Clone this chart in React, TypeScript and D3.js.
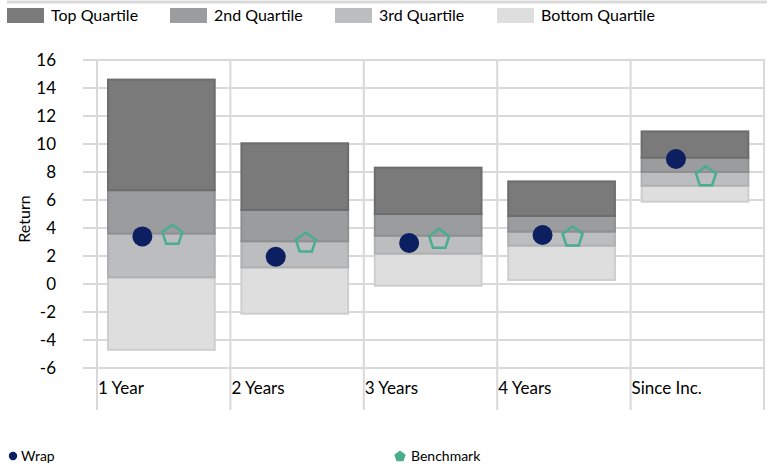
import { useRef, useEffect } from 'react';
import * as d3 from 'd3';

const categories = ['1 Year', '2 Years', '3 Years', '4 Years', 'Since Inc.'];
// quartile boundaries, low to high
const bottomLow = [-4.7, -2.12, -0.12, 0.29, 5.88];
const thirdLow = [0.48, 1.19, 2.17, 2.74, 7.02];
const secondLow = [3.6, 3.05, 3.45, 3.74, 8.0];
const topLow = [6.7, 5.29, 5.0, 4.86, 9.02];
const topHigh = [14.6, 10.05, 8.31, 7.33, 10.9];
const wrap = [3.4, 1.95, 2.93, 3.5, 8.93];
const benchmark = [3.55, 3.0, 3.26, 3.43, 7.74];
const yTicks = [16, 14, 12, 10, 8, 6, 4, 2, 0, -2, -4, -6];

const quartiles = [
  { name: 'Top Quartile', color: '#7a7a7b', stroke: '#6d6d6e', lo: topLow, hi: topHigh },
  { name: '2nd Quartile', color: '#9b9c9d', stroke: '#8e8f90', lo: secondLow, hi: topLow },
  { name: '3rd Quartile', color: '#bcbdbe', stroke: '#afb0b1', lo: thirdLow, hi: secondLow },
  { name: 'Bottom Quartile', color: '#dedede', stroke: '#cecece', lo: bottomLow, hi: thirdLow },
];

const FONT = 'Lato, "Open Sans", sans-serif';
const W = 771;
const H = 466;

export default function App() {
  const svgRef = useRef<SVGSVGElement>(null);

  useEffect(() => {
    if (!svgRef.current) return;
    const svg = d3.select(svgRef.current);
    svg.selectAll('*').remove();

    const y = d3.scaleLinear().domain([-6, 16]).range([368, 60]);
    const x = d3.scaleBand<string>().domain(categories).range([97, 764]).padding(0);
    const bw = x.bandwidth();

    // top rule
    svg.append('line')
      .attr('x1', 7).attr('x2', 767).attr('y1', 2).attr('y2', 2)
      .attr('stroke', '#d9d9d9').attr('stroke-width', 3);

    // legend
    const legX = [7, 170, 335, 497];
    quartiles.forEach((q, i) => {
      svg.append('rect')
        .attr('x', legX[i]).attr('y', 8).attr('width', 37).attr('height', 15)
        .attr('fill', q.color);
      svg.append('text')
        .attr('x', legX[i] + 44).attr('y', 21)
        .attr('font-family', FONT).attr('font-size', 16).attr('fill', '#000')
        .text(q.name);
    });

    // grid
    const grid = svg.append('g');
    yTicks.forEach((t) => {
      grid.append('line')
        .attr('x1', 83).attr('x2', 764).attr('y1', y(t)).attr('y2', y(t))
        .attr('stroke', '#d9d9d9').attr('stroke-width', 2);
      svg.append('text')
        .attr('x', 56).attr('y', y(t)).attr('dy', '0.35em')
        .attr('text-anchor', 'end')
        .attr('font-family', FONT).attr('font-size', 17).attr('fill', '#000')
        .text(t);
    });
    const vx = [...categories.map((c) => x(c) as number), 764];
    vx.forEach((vv) => {
      grid.append('line')
        .attr('x1', vv).attr('x2', vv).attr('y1', 59).attr('y2', 410)
        .attr('stroke', '#d9d9d9').attr('stroke-width', 2);
    });

    // bars
    categories.forEach((c, i) => {
      const x0 = (x(c) as number) + bw * 0.0825;
      quartiles.slice().reverse().forEach((q) => {
        svg.append('rect')
          .attr('x', x0).attr('width', bw * 0.8)
          .attr('y', y(q.hi[i])).attr('height', y(q.lo[i]) - y(q.hi[i]))
          .attr('fill', q.color).attr('stroke', q.stroke).attr('stroke-width', 2);
      });
    });

    // markers
    const pent = (cx: number, cy: number, r: number) => {
      const pts = d3.range(5).map((k) => {
        const a = -Math.PI / 2 + (k * 2 * Math.PI) / 5;
        return [cx + r * Math.cos(a), cy + r * Math.sin(a)];
      });
      return 'M' + pts.map((p) => p.join(',')).join('L') + 'Z';
    };
    categories.forEach((c, i) => {
      const xb = x(c) as number;
      svg.append('circle')
        .attr('cx', xb + bw * 0.34).attr('cy', y(wrap[i])).attr('r', 10)
        .attr('fill', '#0b1f61');
      svg.append('path')
        .attr('d', pent(xb + bw * 0.565, y(benchmark[i]) + 1, 10.5))
        .attr('fill', 'none').attr('stroke', '#4aae8c').attr('stroke-width', 2.5)
        .attr('stroke-linejoin', 'miter');
    });

    // category labels
    categories.forEach((c) => {
      svg.append('text')
        .attr('x', (x(c) as number) + 1).attr('y', 394)
        .attr('font-family', FONT).attr('font-size', 17).attr('fill', '#000')
        .text(c);
    });

    // y title
    svg.append('text')
      .attr('transform', `translate(30,219) rotate(-90)`)
      .attr('text-anchor', 'middle')
      .attr('font-family', FONT).attr('font-size', 16).attr('fill', '#000')
      .text('Return');

    // bottom legend
    svg.append('circle').attr('cx', 13).attr('cy', 456).attr('r', 4.2).attr('fill', '#0b1f61');
    svg.append('text')
      .attr('x', 21).attr('y', 461)
      .attr('font-family', FONT).attr('font-size', 14).attr('fill', '#000')
      .text('Wrap');
    svg.append('path').attr('d', pent(400, 456.5, 6)).attr('fill', '#4aae8c');
    svg.append('text')
      .attr('x', 411).attr('y', 461)
      .attr('font-family', FONT).attr('font-size', 14).attr('fill', '#000')
      .text('Benchmark');
  }, []);

  return (
    <svg
      ref={svgRef}
      width={W}
      height={H}
      style={{ position: 'absolute', left: 0, top: 0, background: '#fff' }}
    />
  );
}
